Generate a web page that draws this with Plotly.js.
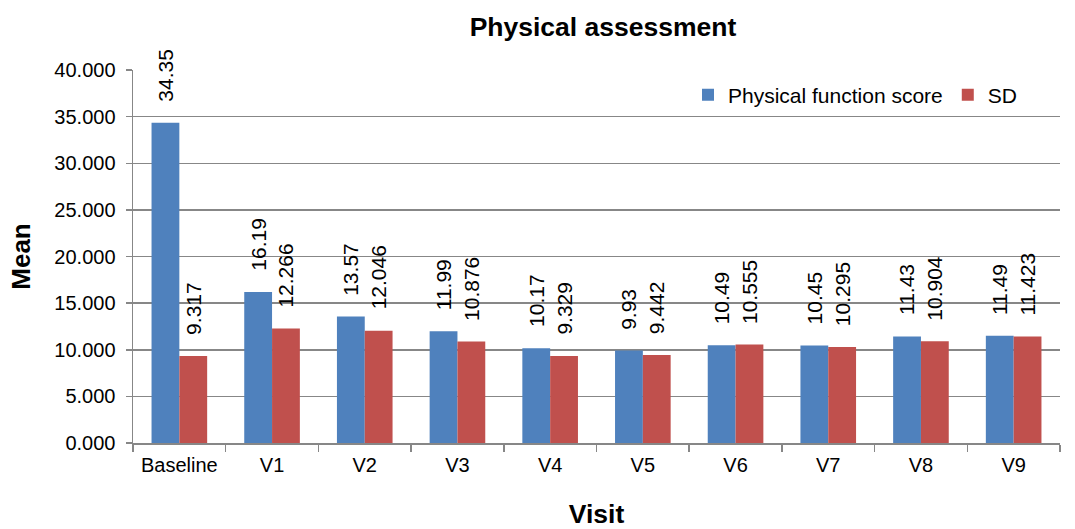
<!DOCTYPE html>
<html>
<head>
<meta charset="utf-8">
<script src="https://cdn.plot.ly/plotly-3.0.1.min.js"></script>
<style>html,body{margin:0;padding:0;background:#fff;}#chart{width:1075px;height:529px;}</style>
</head>
<body>
<div id="chart"></div>
<script>
var visits = ["Baseline", "V1", "V2", "V3", "V4", "V5", "V6", "V7", "V8", "V9"];
var physicalScore = [34.35, 16.19, 13.57, 11.99, 10.17, 9.93, 10.49, 10.45, 11.43, 11.49];
var sdValues = [9.317, 12.266, 12.046, 10.876, 9.329, 9.442, 10.555, 10.295, 10.904, 11.423];
var yTicks = [0, 5, 10, 15, 20, 25, 30, 35, 40];

var FONT = "Liberation Sans, Arial, sans-serif";
var BARGAP = 0.4;
var half = (1 - BARGAP) / 4;

var annotations = [];
function addLabels(values, offset) {
  values.forEach(function (v, i) {
    annotations.push({
      x: i + offset, y: v, xref: "x", yref: "y",
      text: String(v), showarrow: false, textangle: -90,
      xanchor: "center", yanchor: "bottom", yshift: 19,
      font: {family: FONT, size: 21, color: "#000"}
    });
  });
}
addLabels(physicalScore, -half);
addLabels(sdValues, half);

var data = [
  {type: "bar", name: "Physical function score", x: visits, y: physicalScore,
   marker: {color: "#4F81BD"}, hoverinfo: "x+y"},
  {type: "bar", name: "SD", x: visits, y: sdValues,
   marker: {color: "#C0504D"}, hoverinfo: "x+y"}
];

var layout = {
  width: 1075, height: 529,
  margin: {l: 133, r: 15, t: 70, b: 86},
  paper_bgcolor: "#fff", plot_bgcolor: "#fff",
  font: {family: FONT, size: 20, color: "#000"},
  barmode: "group", bargap: BARGAP, bargroupgap: 0,
  title: {text: "<b>Physical assessment</b>", font: {family: FONT, size: 26.5, color: "#000"},
          xref: "container", yref: "container", x: 603 / 1075, y: 1 - 27 / 529,
          xanchor: "center", yanchor: "middle"},
  xaxis: {
    type: "category", tickson: "boundaries", ticks: "outside", ticklen: 7, tickwidth: 1.5,
    tickcolor: "#878787", showline: true, linecolor: "#878787", linewidth: 1.5,
    showgrid: false, tickfont: {family: FONT, size: 20, color: "#000"}, ticklabelstandoff: 3,
    title: {text: "<b>Visit</b>", font: {family: FONT, size: 26.5, color: "#000"}, standoff: 34},
    fixedrange: true
  },
  yaxis: {
    range: [0, 40], tickvals: yTicks, tickformat: ".3f",
    ticks: "outside", ticklen: 6, tickwidth: 1.5, tickcolor: "#878787",
    showline: true, linecolor: "#878787", linewidth: 1.5,
    showgrid: true, gridcolor: "#878787", gridwidth: 1.5, zeroline: false,
    tickfont: {family: FONT, size: 20, color: "#000"}, ticklabelstandoff: 6,
    title: {text: "<b>Mean</b>", font: {family: FONT, size: 26, color: "#000"}, standoff: 16},
    fixedrange: true
  },
  legend: {orientation: "h", xref: "paper", yref: "paper",
           x: (688 - 133) / 927, y: (443 - 95) / 373, xanchor: "left", yanchor: "middle",
           bgcolor: "#fff", font: {family: FONT, size: 21, color: "#000"}},
  annotations: annotations,
  showlegend: true
};

Plotly.newPlot("chart", data, layout, {displayModeBar: false, staticPlot: true});
</script>
</body>
</html>
